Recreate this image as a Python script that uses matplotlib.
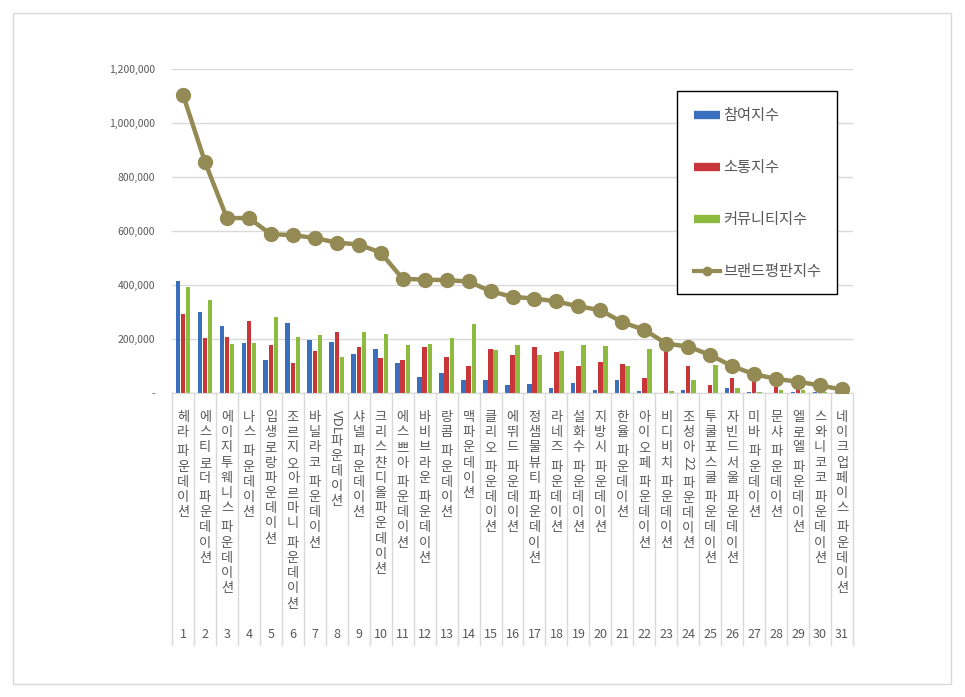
import matplotlib

matplotlib.use("Agg")
import matplotlib.pyplot as plt
import numpy as np
from matplotlib.lines import Line2D
from matplotlib.patches import Rectangle
from matplotlib.transforms import blended_transform_factory

plt.rcParams["font.family"] = ["Noto Sans CJK KR", "DejaVu Sans"]

W, H = 965, 697

ranks = list(range(1, 32))
brands = [
    "헤라 파운데이션", "에스티로더 파운데이션", "에이지투웨니스 파운데이션", "나스 파운데이션",
    "입생로랑파운데이션", "조르지오아르마니 파운데이션", "바닐라코 파운데이션", "VDL파운데이션",
    "샤넬 파운데이션", "크리스챤디올파운데이션", "에스쁘아 파운데이션", "바비브라운 파운데이션",
    "랑콤 파운데이션", "맥파운데이션", "클리오 파운데이션", "에뛰드 파운데이션",
    "정샘물뷰티 파운데이션", "라네즈 파운데이션", "설화수 파운데이션", "지방시 파운데이션",
    "한율 파운데이션", "아이오페 파운데이션", "비디비치 파운데이션", "조성아22 파운데이션",
    "투쿨포스쿨 파운데이션", "자빈드서울 파운데이션", "미바 파운데이션", "문샤 파운데이션",
    "엘로엘 파운데이션", "스와니코코 파운데이션", "네이크업페이스 파운데이션",
]
participation = [416000, 301000, 249000, 186000, 123000, 260000, 198000, 190000, 146000, 164000,
                 112000, 60000, 75000, 49000, 49000, 31000, 35000, 20000, 38000, 12000,
                 49000, 9000, 0, 12000, 0, 20000, 2000, 0, 4000, 3000, 2000]
communication = [294000, 205000, 209000, 268000, 179000, 112000, 157000, 227000, 172000, 131000,
                 123000, 172000, 135000, 101000, 164000, 142000, 172000, 153000, 101000, 116000,
                 109000, 57000, 174000, 101000, 31000, 57000, 63000, 40000, 28000, 20000, 8000]
community = [394000, 346000, 183000, 186000, 283000, 209000, 216000, 135000, 227000, 220000,
             179000, 183000, 205000, 257000, 160000, 179000, 142000, 157000, 179000, 175000,
             101000, 164000, 9000, 49000, 105000, 19000, 5000, 12000, 10000, 5000, 3000]
brand_index = [1105000, 856000, 648000, 648000, 588000, 585000, 574000, 557000, 550000, 520000,
               423000, 420000, 418000, 413000, 377000, 356000, 350000, 339000, 321000, 307000,
               262000, 234000, 183000, 172000, 141000, 99000, 70000, 52000, 42000, 28000, 13000]

series_names = ["참여지수", "소통지수", "커뮤니티지수", "브랜드평판지수"]
C_BLUE, C_RED, C_GREEN, C_LINE = "#3A6FBE", "#C9363A", "#8CBB3E", "#948A54"
TXT = "#595959"
GRID = "#D9D9D9"


def fy(py):
    """figure-pixel y (from top) -> figure fraction"""
    return 1 - py / H


fig = plt.figure(figsize=(W / 100, H / 100), dpi=100)
fig.patches.append(Rectangle((13 / W, fy(684)), 938 / W, 671 / H, transform=fig.transFigure,
                             fill=False, edgecolor=GRID, lw=1))

ax = fig.add_axes([172 / W, fy(393), (853 - 172) / W, (393 - 69) / H])
x = np.array(ranks)
bw, off = 0.2, 0.235
ax.bar(x - off, participation, bw, color=C_BLUE, zorder=2)
ax.bar(x, communication, bw, color=C_RED, zorder=2)
ax.bar(x + off, community, bw, color=C_GREEN, zorder=2)
ax.plot(x, brand_index, color=C_LINE, lw=3.2, marker="o", ms=10, zorder=3)

ax.set_xlim(0.5, 31.5)
ax.set_ylim(0, 1200000)
ax.set_yticks(np.arange(0, 1200001, 200000))
ax.set_yticklabels(["-"] + [f"{v:,}" for v in range(200000, 1200001, 200000)],
                   fontsize=7.5, color=TXT)
ax.tick_params(axis="y", length=0, pad=12)
ax.set_xticks([])
ax.grid(axis="y", color=GRID, lw=1, zorder=0)
for s in ["top", "right", "left"]:
    ax.spines[s].set_visible(False)
ax.spines["bottom"].set_color(GRID)

# multi-level category axis: separators, stacked vertical names, rank numbers
tr = blended_transform_factory(ax.transData, fig.transFigure)
for k in range(32):
    ax.add_line(Line2D([k + 0.5, k + 0.5], [fy(393), fy(645)], transform=tr, color=GRID,
                       lw=1, clip_on=False))

STEP = 15.2
for xi, name in zip(ranks, brands):
    py = 410.0
    i = 0
    while i < len(name):
        ch = name[i]
        if ch == " ":
            py += 4
            i += 1
        elif ch.isascii():
            j = i
            while j < len(name) and name[j].isascii() and name[j] != " ":
                j += 1
            run = name[i:j]
            ax.text(xi, fy(py), run, transform=tr, rotation=-90, ha="center", va="top",
                    fontsize=9.5, color=TXT)
            py += 7.5 * len(run) + 1
            i = j
        else:
            ax.text(xi, fy(py + STEP / 2), ch, transform=tr, ha="center", va="center",
                    fontsize=9.5, color=TXT)
            py += STEP
            i += 1
    ax.text(xi, fy(635), str(xi), transform=tr, ha="center", va="center", fontsize=9,
            color=TXT)

handles = [
    Line2D([], [], color=C_BLUE, lw=6, solid_capstyle="butt"),
    Line2D([], [], color=C_RED, lw=6, solid_capstyle="butt"),
    Line2D([], [], color=C_GREEN, lw=6, solid_capstyle="butt"),
    Line2D([], [], color=C_LINE, lw=3, marker="o", ms=6),
]
fig.patches.append(Rectangle((677 / W, fy(294)), 160 / W, 203 / H, transform=fig.transFigure,
                             facecolor="white", edgecolor="black", lw=1, zorder=5))
leg = fig.legend(handles, series_names, loc="upper left", bbox_to_anchor=(694 / W, fy(107)),
                 bbox_transform=fig.transFigure, frameon=False, fontsize=11,
                 labelspacing=2.3, handlelength=1.7, handletextpad=0.2, borderpad=0,
                 borderaxespad=0, labelcolor=TXT)
leg.set_zorder(6)

fig.savefig("out.png", dpi=100)
